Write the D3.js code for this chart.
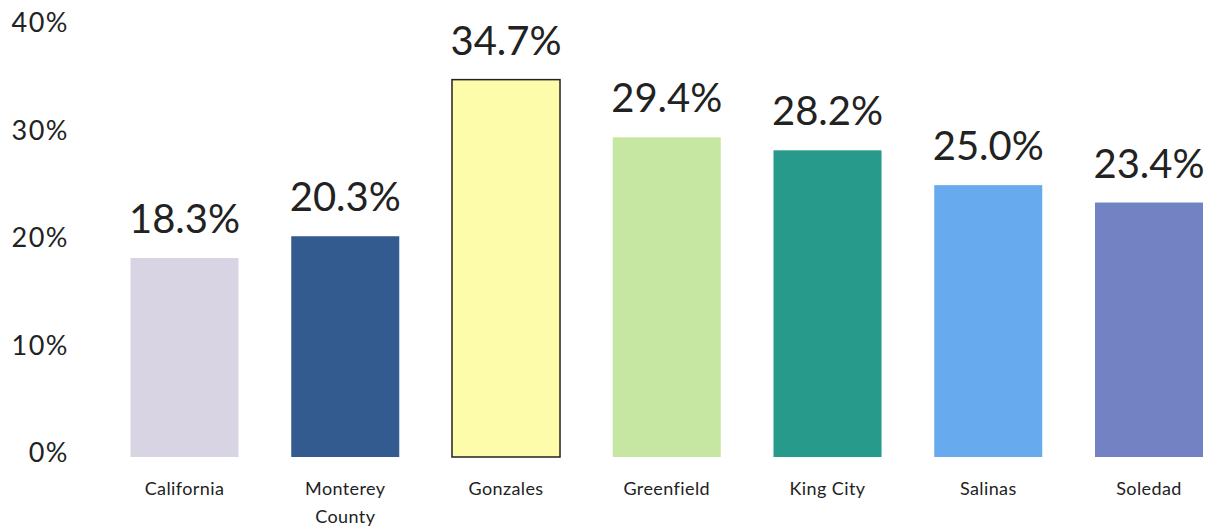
<!DOCTYPE html>
<html>
<head>
<meta charset="utf-8">
<script src="https://cdn.jsdelivr.net/npm/d3@7/dist/d3.min.js"></script>
<style>
  html, body { margin: 0; padding: 0; background: #fff; }
  svg { display: block; }
  text { font-family: Lato, "Open Sans", sans-serif; fill: #222; }
</style>
</head>
<body>
<svg id="chart" width="1208" height="531"></svg>
<script>
const categories = ["California", "Monterey County", "Gonzales", "Greenfield", "King City", "Salinas", "Soledad"];
const values = [18.3, 20.3, 34.7, 29.4, 28.2, 25.0, 23.4];
const colors = ["#d9d4e3", "#335b8f", "#fdfcaa", "#c6e7a2", "#289a8b", "#67abee", "#7282c3"];
const strokes = ["none", "none", "#222", "none", "none", "none", "none"];
const yTicks = [0, 10, 20, 30, 40];

const svg = d3.select("#chart");
const step = 160.75;
const x = d3.scaleBand()
  .domain(categories)
  .range([184.5 - step / 2, 1149 + step / 2])
  .paddingInner(0.328)
  .paddingOuter(0.164);
const y = d3.scaleLinear().domain([0, 40]).range([457, 22]);
// tick labels in the source sit on a slightly tighter spacing than the bars
const yLabel = d3.scaleLinear().domain([0, 40]).range([452, 22]);

// y axis labels
const yAxis = d3.axisLeft(yLabel).tickValues(yTicks).tickFormat(d => d + "%").tickSize(0).tickPadding(0);
const gy = svg.append("g").attr("transform", "translate(69,0)").call(yAxis);
gy.select(".domain").remove();
gy.selectAll("text")
  .attr("font-family", "Lato, sans-serif")
  .attr("font-size", 27)
  .attr("fill", "#222")
  .attr("dy", "0.36em")
  .style("letter-spacing", "1.5px");

// bars
svg.append("g").selectAll("rect")
  .data(categories)
  .join("rect")
  .attr("x", d => x(d))
  .attr("width", x.bandwidth())
  .attr("y", (d, i) => y(values[i]))
  .attr("height", (d, i) => y(0) - y(values[i]))
  .attr("fill", (d, i) => colors[i])
  .attr("stroke", (d, i) => strokes[i])
  .attr("stroke-width", 1.5);

// value labels
svg.append("g").selectAll("text")
  .data(categories)
  .join("text")
  .attr("x", d => x(d) + x.bandwidth() / 2)
  .attr("y", (d, i) => y(values[i]) - 25)
  .attr("text-anchor", "middle")
  .attr("font-size", 40)
  .text((d, i) => values[i].toFixed(1) + "%");

// category labels
const xAxis = d3.axisBottom(x).tickSize(0).tickPadding(0);
const gx = svg.append("g").attr("transform", "translate(0,495)").call(xAxis);
gx.select(".domain").remove();
gx.selectAll(".tick text").remove();
gx.selectAll(".tick").each(function(d) {
  const words = d === "Monterey County" ? ["Monterey", "County"] : [d];
  const t = d3.select(this).append("text")
    .attr("text-anchor", "middle")
    .attr("font-family", "Lato, sans-serif")
    .attr("font-size", 18)
    .attr("fill", "#222")
    .style("letter-spacing", "0.4px");
  words.forEach((w, i) => {
    t.append("tspan").attr("x", 0).attr("y", i * 28).text(w);
  });
});
</script>
</body>
</html>
